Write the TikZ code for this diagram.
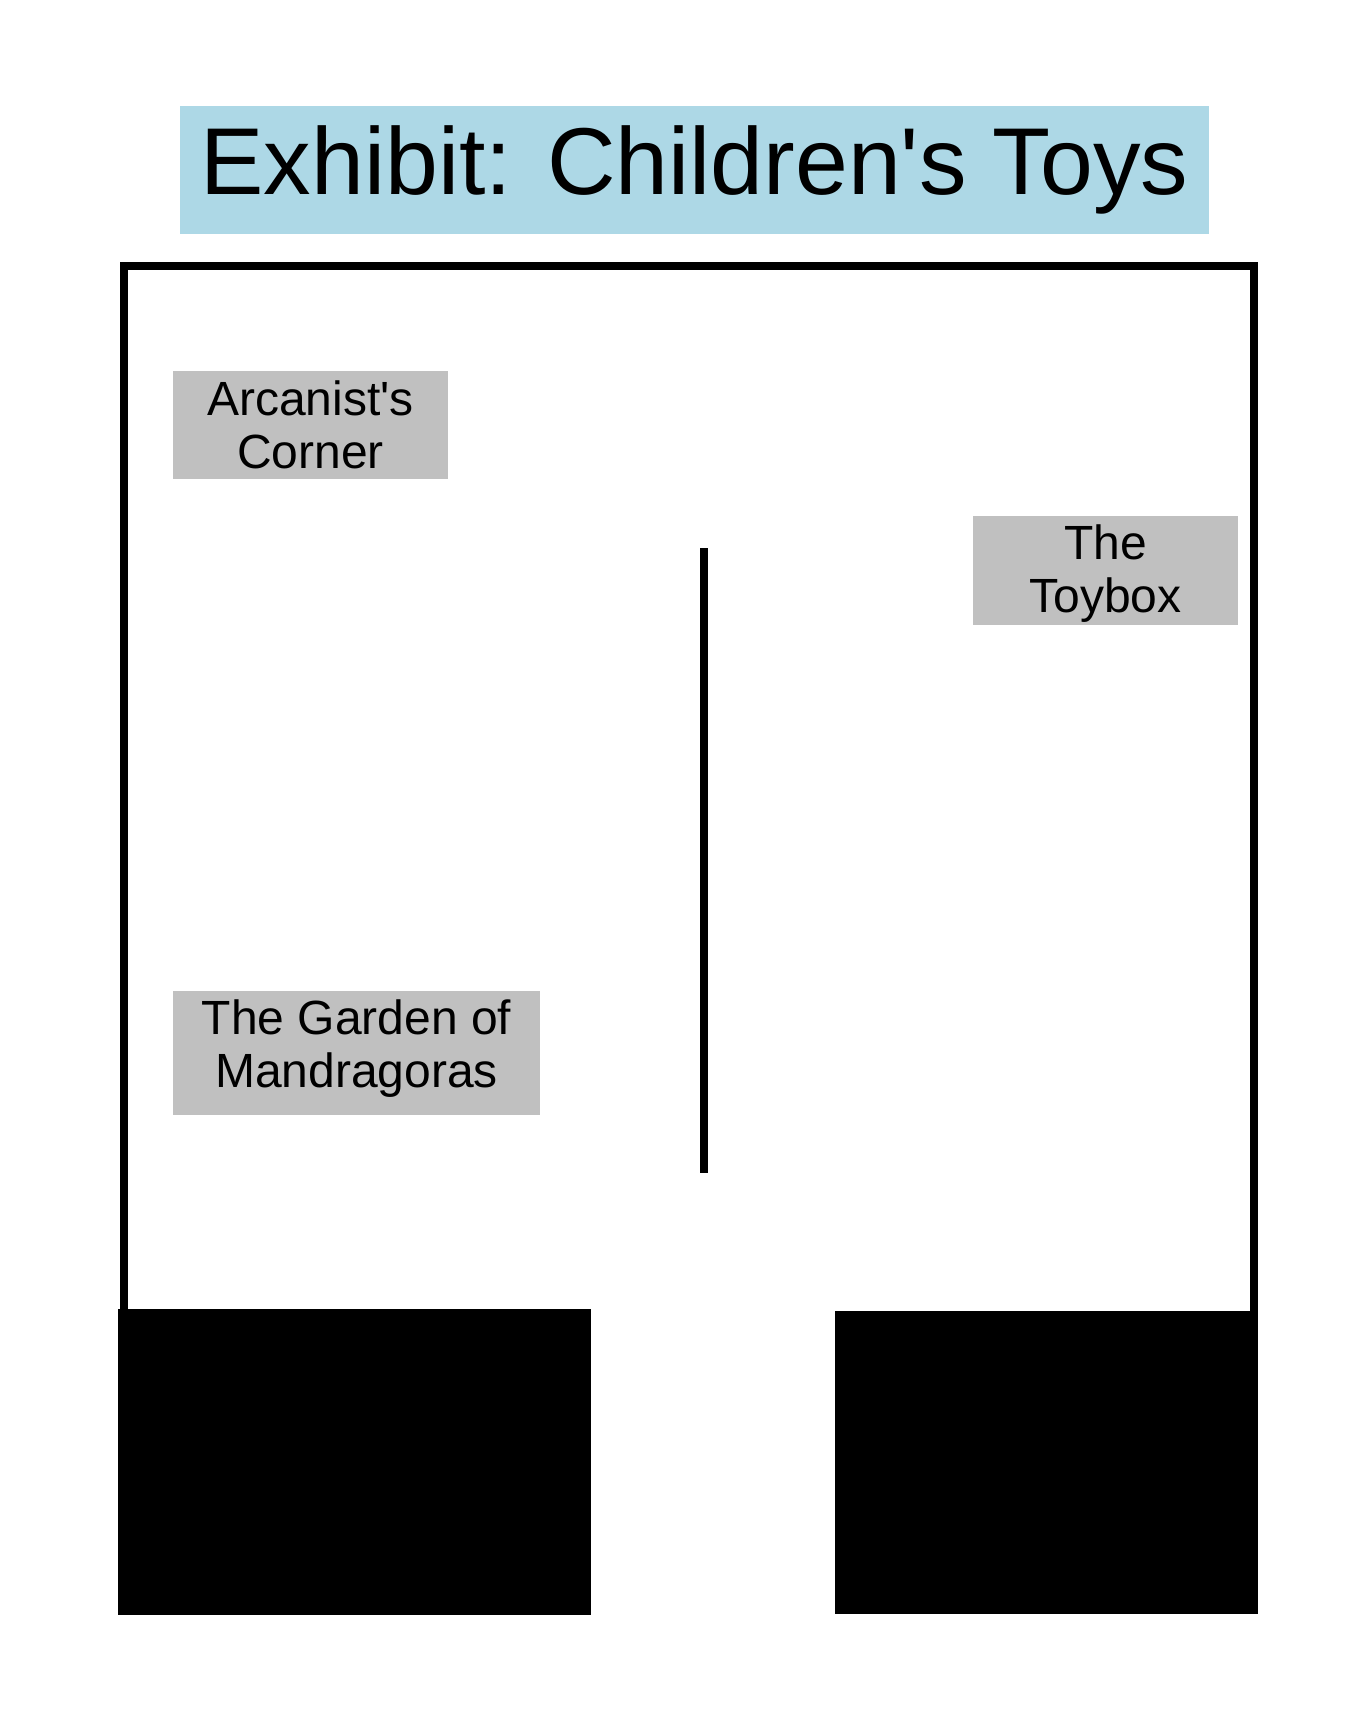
\documentclass[tikz,border=0pt]{standalone}
\usepackage{fontspec}
\setmainfont{Liberation Sans}
\definecolor{titleblue}{RGB}{173,216,230}
\definecolor{zonegray}{RGB}{192,192,192}
\begin{document}
\begin{tikzpicture}[x=1pt,y=-1pt,
	zone/.style={fill=zonegray,inner sep=0pt,align=center,font=\fontsize{48}{53}\selectfont},
	wall/.style={line width=8pt}]

	\useasboundingbox (0,0) rectangle (1365,1725);

	% title
	\node [fill=titleblue,inner sep=0pt,minimum width=1029pt,minimum height=128pt,font=\fontsize{95}{110}\selectfont] (title) at (694.5,170) {Exhibit: Children\textquotesingle s Toys};

	% walls
	\draw [wall] (124,1320) -- (124,266) -- (1254,266) -- (1254,1320);
	\draw [wall] (704,548) -- (704,1173);

	% blocks
	\fill (118,1309) rectangle (591,1615);
	\fill (835,1311) rectangle (1258,1614);

	% zones
	\node [zone,minimum width=275pt,minimum height=108pt] (arcanist) at (310.5,425) {Arcanist\textquotesingle s\\Corner};
	\node [zone,minimum width=265pt,minimum height=109pt,text depth=3pt] (toybox) at (1105.5,570.5) {The\\Toybox};
	\node [zone,minimum width=367pt,minimum height=124pt,text depth=18pt] (garden) at (356.5,1053) {The Garden of\\Mandragoras};

\end{tikzpicture}
\end{document}
